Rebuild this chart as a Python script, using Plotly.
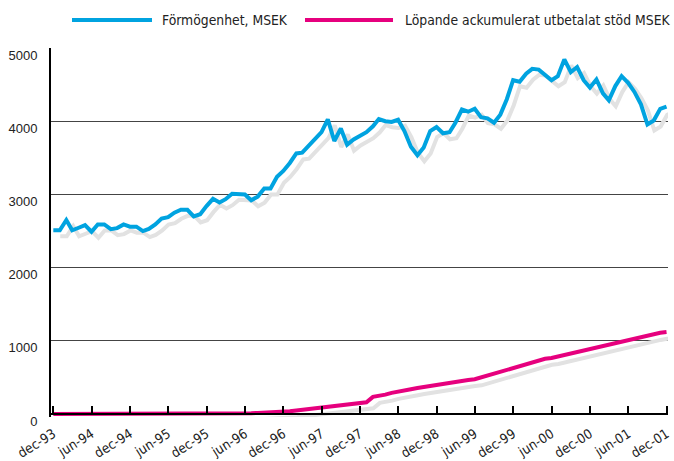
import pandas as pd
import plotly.graph_objects as go

# ---------------- data ----------------
start_month = "1993-12-01"

series_names = ["Förmögenhet, MSEK", "Löpande ackumulerat utbetalat stöd MSEK"]

formogenhet = [
    2510, 2510, 2650, 2510, 2545, 2580, 2490, 2590, 2590, 2525, 2540, 2590,
    2560, 2560, 2500, 2530, 2590, 2670, 2690, 2750, 2790, 2790, 2700, 2730,
    2840, 2940, 2890, 2935, 3010, 3010, 3000, 2920, 2970, 3080, 3080, 3240,
    3320, 3430, 3560, 3570, 3670, 3750, 3850, 4025, 3730, 3900, 3680, 3750,
    3800, 3850, 3930, 4030, 4000, 3990, 4020, 3865, 3650, 3535, 3640, 3865,
    3920, 3835, 3850, 3980, 4160, 4130, 4170, 4055, 4040, 3980, 4090, 4300,
    4560, 4540, 4650, 4715, 4705, 4625, 4560, 4615, 4845, 4670, 4740, 4560,
    4460, 4570, 4380, 4285, 4480, 4615, 4525, 4400, 4230, 3955, 4010, 4170,
    4200,
]

stod = [
    0, 0, 0, 0, 1, 1, 1, 1, 2, 2, 2, 2,
    3, 3, 3, 3, 4, 4, 4, 4, 5, 5, 5, 5,
    6, 6, 7, 7, 8, 8, 10, 12, 15, 18, 22, 26,
    32, 40, 50, 60, 70, 80, 90, 100, 110, 120, 130, 140,
    150, 160, 235, 245, 265, 290, 310, 325, 340, 355, 370, 385,
    395, 410, 425, 440, 455, 465, 475, 500, 525, 550, 575, 600,
    620, 645, 670, 700, 730, 755, 765, 785, 810, 835, 860, 880,
    895, 915, 935, 955, 980, 1000, 1020, 1035, 1055, 1075, 1095, 1110,
    1120,
]

tick_labels = [
    "dec-93", "jun-94", "dec-94", "jun-95", "dec-95", "jun-96", "dec-96",
    "jun-97", "dec-97", "jun-98", "dec-98", "jun-99", "dec-99", "jun-00",
    "dec-00", "jun-01", "dec-01",
]

y_ticks = [0, 1000, 2000, 3000, 4000, 5000]

# ---------------- styling ----------------
BLUE = "#00A3E0"
PINK = "#E6007E"
SHADOW = "#E2E2E2"
NARROW = "DejaVu Sans Condensed, Liberation Sans Narrow, sans-serif"
REGULAR = "Liberation Sans, Arial, sans-serif"

months = pd.date_range(start_month, periods=len(formogenhet), freq="MS")
month_num = {"jan": 1, "feb": 2, "mar": 3, "apr": 4, "maj": 5, "jun": 6,
             "jul": 7, "aug": 8, "sep": 9, "okt": 10, "nov": 11, "dec": 12}


def label_to_date(lbl):
    m, y = lbl.split("-")
    yy = int(y)
    yy = 2000 + yy if yy < 50 else 1900 + yy
    return pd.Timestamp(year=yy, month=month_num[m], day=1)


tick_vals = [label_to_date(t) for t in tick_labels]

shadow_dx = pd.Timedelta(days=33)
shadow_dy = 82

y_min, y_max = -40, 5000

fig = go.Figure()

# drop shadows
for vals in (formogenhet, stod):
    fig.add_trace(go.Scatter(
        x=months + shadow_dx, y=[v - shadow_dy for v in vals],
        mode="lines", line=dict(color=SHADOW, width=4),
        hoverinfo="skip", showlegend=False,
    ))

for vals, name, col in ((formogenhet, series_names[0], BLUE),
                        (stod, series_names[1], PINK)):
    fig.add_trace(go.Scatter(
        x=months, y=vals, name=name, mode="lines",
        line=dict(color=col, width=4), showlegend=False,
    ))

# manual legend (long line samples)
legend_items = [
    (series_names[0], BLUE, 72, 152, 160),
    (series_names[1], PINK, 305, 393, 403),
]
left_px, right_px = 51, 668
top_px, bot_px = 48, 417


def px_to_paper_x(px):
    return (px - left_px) / (right_px - left_px)


def px_to_paper_y(py):
    return (bot_px - py) / (bot_px - top_px)


legend_y = px_to_paper_y(20)
for name, col, x0, x1, xt in legend_items:
    fig.add_shape(type="line", xref="paper", yref="paper",
                  x0=px_to_paper_x(x0), x1=px_to_paper_x(x1),
                  y0=legend_y, y1=legend_y,
                  line=dict(color=col, width=4))
    fig.add_annotation(text=name, xref="paper", yref="paper",
                       x=px_to_paper_x(xt), y=legend_y,
                       xanchor="left", yanchor="middle", showarrow=False,
                       font=dict(family=NARROW, size=13.8, color="#222"))

fig.update_layout(
    width=674, height=461,
    margin=dict(l=left_px, r=674 - right_px, t=top_px, b=461 - bot_px,
                autoexpand=False),
    paper_bgcolor="white", plot_bgcolor="white",
    showlegend=False,
    xaxis=dict(
        range=[pd.Timestamp("1993-11-20"), pd.Timestamp("2001-12-08")],
        tickvals=tick_vals, ticktext=tick_labels, tickangle=-32,
        ticks="inside", ticklen=7, tickwidth=2, tickcolor="black",
        showline=True, linecolor="black", linewidth=2,
        showgrid=False, zeroline=False, automargin=False,
        anchor="free", position=(0 - y_min) / (y_max - y_min),
        ticklabelstandoff=6,
        tickfont=dict(family=NARROW, size=13.5, color="#222"),
    ),
    yaxis=dict(
        range=[y_min, y_max], tickvals=y_ticks, automargin=False,
        showgrid=True, gridcolor="#444", gridwidth=1,
        zeroline=False, showline=True, linecolor="black", linewidth=2,
        ticks="", ticklabelstandoff=9, ticklabelshift=7,
        tickfont=dict(family=REGULAR, size=13, color="#222"),
    ),
)

fig.write_html(
    "out.html",
    config={"displayModeBar": False},
    post_script="document.body.style.margin='0';document.body.style.overflow='hidden';",
)
